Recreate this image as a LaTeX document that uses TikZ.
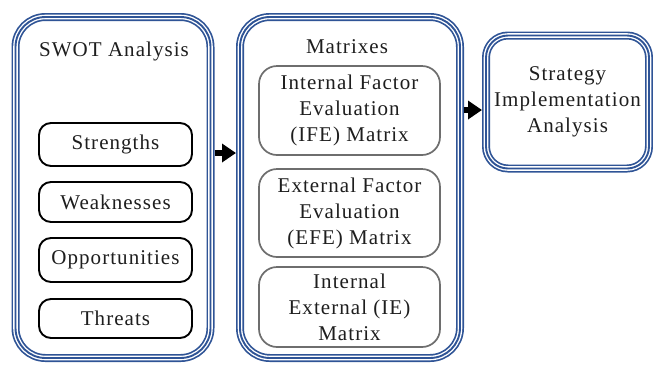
\documentclass[tikz,border=0pt]{standalone}
\usepackage{fontspec}
\setmainfont{Liberation Serif}[LetterSpace=5]
\usetikzlibrary{arrows.meta}
\definecolor{frameblue}{HTML}{2F5496}
\definecolor{boxgray}{HTML}{6E6E6E}
\definecolor{inktext}{HTML}{1E1E1E}
\tikzset{
  triple/.style={draw=frameblue, line width=8pt, fill=white,
    postaction={draw=white, line width=4.6pt},
    postaction={draw=frameblue, line width=1.9pt}},
  container/.style={triple, rectangle, inner sep=0pt},
  swotbox/.style={draw=black, line width=1.9pt, rounded corners=12pt,
    minimum width=153pt, inner sep=0pt},
  matbox/.style={draw=boxgray, line width=1.7pt, rounded corners=18pt,
    minimum width=181pt, inner sep=0pt, align=center},
  label/.style={text=inktext, font=\fontsize{21}{26}\selectfont, align=center},
  bigarrow/.style={draw=black, line width=6pt,
    -{Triangle[length=14pt, width=18pt]}}
}
\begin{document}
\begin{tikzpicture}[x=1pt, y=-1pt, every node/.append style={label}]
\useasboundingbox (0,0) rectangle (653,365);

% three main frames
\node[container, rounded corners=30pt, minimum width=195pt, minimum height=341pt] (swot) at (113,187.5) {};
\node[container, rounded corners=30pt, minimum width=220pt, minimum height=341pt] (mats) at (350,187.5) {};
\node[container, rounded corners=22pt, minimum width=163pt, minimum height=133pt] (impl) at (567.5,102)
  {Strategy\\Implementation\\Analysis};

% SWOT column
\node (swottitle) at (114,51) {SWOT Analysis};
\node[swotbox, minimum height=43pt] (str) at (115.5,144.5) {Strengths};
\node[swotbox, minimum height=40pt] (wea) at (115.5,202) {Weaknesses};
\node[swotbox, minimum height=44pt] (opp) at (115.5,260) {Opportunities};
\node[swotbox, minimum height=39pt] (thr) at (115.5,318.5) {Threats};

% matrices column
\node (mattitle) at (347,47) {Matrixes};
\node[matbox, minimum height=89pt] (ife) at (349.5,110.5) {Internal Factor\\Evaluation\\(IFE) Matrix};
\node[matbox, minimum height=88pt] (efe) at (349.5,213) {External Factor\\Evaluation\\(EFE) Matrix};
\node[matbox, minimum height=80pt] (ie) at (349.5,307) {Internal\\External (IE)\\Matrix};

% flow arrows
\draw[bigarrow] ([yshift=34.5pt]swot.east) -- ([yshift=34.5pt]mats.west);
\coordinate (a2) at ([yshift=77.5pt]mats.east);
\draw[bigarrow] (a2) -- (a2 -| impl.west);
\end{tikzpicture}
\end{document}
